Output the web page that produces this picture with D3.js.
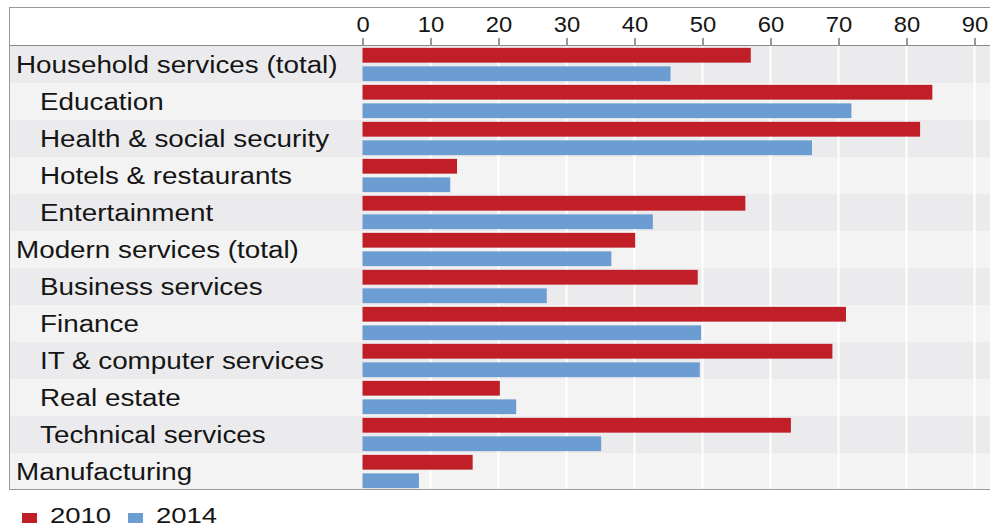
<!DOCTYPE html>
<html>
<head>
<meta charset="utf-8">
<script src="https://cdn.jsdelivr.net/npm/d3@7"></script>
<style>
  body { margin: 0; background: #fff; }
  text { font-family: "Liberation Sans", Arial, sans-serif; fill: #151515; }
</style>
</head>
<body>
<svg width="990" height="529"></svg>
<script>
// Categories (top to bottom) and their level (0 = total, 1 = sub-sector)
const categories = [
  "Household services (total)", "Education", "Health & social security",
  "Hotels & restaurants", "Entertainment", "Modern services (total)",
  "Business services", "Finance", "IT & computer services", "Real estate",
  "Technical services", "Manufacturing"
];
const levels = [0, 1, 1, 1, 1, 0, 1, 1, 1, 1, 1, 0];

const years = ["2010", "2014"];
const values2010 = [57.1, 83.8, 82, 13.9, 56.3, 40.1, 49.3, 71.1, 69.1, 20.2, 63, 16.2];
const values2014 = [45.3, 71.9, 66.1, 12.9, 42.7, 36.6, 27.1, 49.8, 49.6, 22.6, 35.1, 8.3];
const xTicks = [0, 10, 20, 30, 40, 50, 60, 70, 80, 90];

const colors = { "2010": "#c11f28", "2014": "#6c9dd2" };

const data = categories.map((c, i) => ({
  name: c, level: levels[i], "2010": values2010[i], "2014": values2014[i]
}));

const svg = d3.select("svg");

// box and header
const box = { left: 10, right: 992, top: 8, header: 46, bottom: 490 };

const x = d3.scaleLinear().domain([0, 90]).range([362.5, 974.5]);

const y = d3.scaleBand()
  .domain(categories)
  .range([box.header, box.bottom]);

const yInner = d3.scaleBand()
  .domain(years)
  .range([0, y.bandwidth()])
  .paddingInner(0.2)
  .paddingOuter(0.1);

// header background
svg.append("rect")
  .attr("x", box.left).attr("y", box.top)
  .attr("width", box.right - box.left).attr("height", box.header - box.top)
  .attr("fill", "#fff");

// row bands
svg.append("g").selectAll("rect")
  .data(data)
  .join("rect")
  .attr("x", box.left)
  .attr("y", d => y(d.name))
  .attr("width", box.right - box.left)
  .attr("height", y.bandwidth())
  .attr("fill", (d, i) => i % 2 === 0 ? "#ebebed" : "#f3f3f3");

// vertical white grid lines
svg.append("g").selectAll("line")
  .data(xTicks.slice(1))
  .join("line")
  .attr("x1", d => x(d)).attr("x2", d => x(d))
  .attr("y1", box.header).attr("y2", box.bottom)
  .attr("stroke", "#fff")
  .attr("stroke-width", 2);

// top axis
const axis = svg.append("g")
  .attr("transform", `translate(0,${box.header - 1})`)
  .call(d3.axisTop(x).tickValues(xTicks).tickSize(7).tickSizeOuter(0).tickPadding(6));
axis.select(".domain").remove();
axis.selectAll(".tick line").attr("stroke", "#333");
axis.selectAll(".tick text")
  .style("font-size", "22px")
  .attr("fill", "#151515")
  .attr("transform", "scale(1.08,1)");

// header separator line
svg.append("line")
  .attr("x1", box.left).attr("x2", box.right)
  .attr("y1", box.header - 0.5).attr("y2", box.header - 0.5)
  .attr("stroke", "#8a8a8a");

// bars
const rows = svg.append("g").selectAll("g")
  .data(data)
  .join("g")
  .attr("transform", d => `translate(0,${y(d.name)})`);

rows.selectAll("rect")
  .data(d => years.map(k => ({ key: k, value: d[k] })))
  .join("rect")
  .attr("x", x(0))
  .attr("y", d => yInner(d.key))
  .attr("width", d => x(d.value) - x(0))
  .attr("height", yInner.bandwidth())
  .attr("fill", d => colors[d.key]);

// category labels (the source font is drawn wide)
rows.append("text")
  .attr("transform", d => `translate(${d.level === 0 ? 16 : 40},${y.bandwidth() / 2}) scale(1.21,1)`)
  .attr("dy", "0.36em")
  .style("font-size", "23px")
  .text(d => d.name);

// outer frame
svg.append("rect")
  .attr("x", box.left - 0.5).attr("y", box.top - 0.5)
  .attr("width", box.right - box.left).attr("height", box.bottom - box.top)
  .attr("fill", "none")
  .attr("stroke", "#999");

// legend
const legend = svg.append("g").attr("transform", "translate(22,0)");
const legendItems = legend.selectAll("g")
  .data(years)
  .join("g")
  .attr("transform", (d, i) => `translate(${i * 106},0)`);
legendItems.append("rect")
  .attr("x", 0).attr("y", 513)
  .attr("width", 15).attr("height", 10)
  .attr("fill", d => colors[d]);
legendItems.append("text")
  .attr("transform", "translate(28,522.5) scale(1.25,1)")
  .style("font-size", "22px")
  .text(d => d);
</script>
</body>
</html>
